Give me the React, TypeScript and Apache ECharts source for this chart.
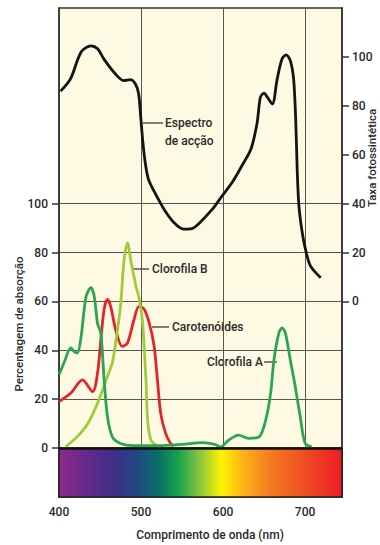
import React, { useEffect, useRef } from "react";
import * as echarts from "echarts";

// ---- data ----
const xLabelValues = [400, 500, 600, 700];
const absorptionTicks = [0, 20, 40, 60, 80, 100];
const rateTicks = [0, 20, 40, 60, 80, 100];

// Espectro de acção (taxa fotossintética, right axis)
const actionNm = [402, 414, 427, 439, 447, 455, 467, 479, 487, 493, 497, 499.5, 502, 505, 509, 516, 528, 540, 552, 562, 571, 587, 599, 611, 623, 634, 641.5, 645.5, 650, 654, 660, 666, 672, 677, 682, 686, 688.5, 690.5, 692.5, 696.5, 700.5, 706.5, 719];
const actionRate = [86, 91, 102, 104.5, 103.3, 99, 93.7, 90.3, 90.7, 89, 85, 76, 66, 57, 50, 45, 37.7, 32.3, 29.6, 29.8, 32, 37.7, 43.2, 48.6, 55.5, 62.3, 73, 83.5, 85.2, 83.5, 80.7, 91, 99.2, 100.8, 98.5, 91, 75, 52.7, 39, 28.2, 21.3, 14.5, 9.7];

// Clorofila B
const chlBNm = [408, 422, 435, 447, 459, 465, 469, 475, 479, 483.5, 488, 494, 498, 502, 506, 508, 512, 518, 524];
const chlBAbs = [0.5, 4.6, 10, 18.4, 29.3, 34.8, 43, 58, 75.8, 84, 75.8, 66, 60.8, 51, 28, 11.5, 3.3, 1.2, 0.5];

// Clorofila A
const chlANm = [400, 406, 414.5, 418.5, 422.5, 427, 433, 439, 443, 447, 451, 455, 459, 465, 475, 490, 520, 550, 575, 590, 597, 607, 619, 631, 644, 652, 658, 662, 668, 672, 676, 682, 688, 694, 700, 708];
const chlAAbs = [30, 34.8, 41, 39.5, 38.9, 45.7, 62, 65.6, 62, 51, 47, 28, 13, 4.6, 1.9, 1, 1, 1.5, 2.2, 1.5, 0.5, 3.3, 5.3, 4, 4.6, 11.5, 22.5, 36, 47, 49.2, 47, 36, 25.2, 13, 2, 0.5];

// Carotenóides
const carNm = [400, 414.5, 428.5, 441, 447, 451, 455, 459, 463, 469, 477, 483.5, 491.5, 497.5, 504, 510, 516, 520, 524, 530, 536, 540];
const carAbs = [19, 22.5, 27.9, 23.1, 30.7, 44.4, 56.7, 60.8, 58, 48.5, 41.6, 43, 52.6, 58, 56.7, 51.2, 41.6, 27.9, 14.2, 6, 1.9, 0.8];

const zip = (xs: number[], ys: number[]) => xs.map((x, i) => [x, ys[i]]);

const FONT = "Roboto, 'Noto Sans', sans-serif";
const TXT = "#2a2a2a";
const FW = 500;

export default function App() {
  const ref = useRef<HTMLDivElement>(null);
  useEffect(() => {
    document.body.style.margin = "0";
    if (!ref.current) return;
    const chart = echarts.init(ref.current, null, { renderer: "svg" });

    const spectrum = new echarts.graphic.LinearGradient(0, 0, 1, 0, [
      { offset: 0, color: "#8e2a8b" },
      { offset: 0.116, color: "#5d2a8c" },
      { offset: 0.2, color: "#3b2f86" },
      { offset: 0.29, color: "#1b4f80" },
      { offset: 0.35, color: "#0a6e6a" },
      { offset: 0.42, color: "#13a24e" },
      { offset: 0.49, color: "#7dc242" },
      { offset: 0.574, color: "#fff200" },
      { offset: 0.65, color: "#fbb416" },
      { offset: 0.75, color: "#f47920" },
      { offset: 1, color: "#ec1c24" },
    ]);

    const labelLine = (x1: number, y1: number, x2: number, y2: number) => ({
      type: "line",
      shape: { x1, y1, x2, y2 },
      style: { stroke: TXT, lineWidth: 1.2 },
      silent: true,
    });
    const label = (text: string, x: number, y: number, align = "left") => ({
      type: "text",
      x,
      y,
      style: { text, fill: TXT, fontSize: 12, fontFamily: FONT, fontWeight: FW, textAlign: align, textVerticalAlign: "middle" },
      silent: true,
    });
    const axisLabelStyle = { color: TXT, fontSize: 12, fontFamily: FONT, fontWeight: FW };

    chart.setOption({
      animation: false,
      grid: {
        left: 59,
        right: 38,
        top: 8,
        bottom: 48,
        show: true,
        backgroundColor: "#fdf9e3",
        borderColor: "#333",
        borderWidth: 1.5,
      },
      xAxis: {
        type: "value",
        min: 400,
        max: 745,
        interval: 100,
        axisLine: { show: false },
        axisTick: { show: false },
        splitLine: { show: true, lineStyle: { color: "#555", width: 1 } },
        axisLabel: { customValues: xLabelValues, ...axisLabelStyle, margin: 9 },
      },
      yAxis: [
        {
          type: "value",
          min: -20,
          max: 180,
          interval: 20,
          axisLine: { show: true, lineStyle: { color: "#333", width: 1.5 } },
          axisTick: { show: true, customValues: absorptionTicks, length: 7, lineStyle: { color: "#333", width: 1.5 } },
          splitLine: { show: true, lineStyle: { color: "#555", width: 1 } },
          axisLabel: { customValues: absorptionTicks, ...axisLabelStyle, margin: 11 },
        },
        {
          type: "value",
          min: -80,
          max: 120,
          interval: 20,
          position: "right",
          axisLine: { show: true, lineStyle: { color: "#333", width: 1.5 } },
          axisTick: { show: true, customValues: rateTicks, length: 7, lineStyle: { color: "#333", width: 1.5 } },
          splitLine: { show: false },
          axisLabel: { customValues: rateTicks, ...axisLabelStyle, margin: 10 },
        },
      ],
      series: [
        {
          name: "Carotenóides",
          type: "line",
          yAxisIndex: 0,
          data: zip(carNm, carAbs),
          smooth: 0.3,
          showSymbol: false,
          lineStyle: { color: "#e3242b", width: 2.8 },
          silent: true,
          z: 3,
          markArea: {
            silent: true,
            itemStyle: { color: spectrum, borderColor: "#222", borderWidth: 1.5 },
            data: [[{ xAxis: 400, yAxis: -20 }, { xAxis: 745, yAxis: 0 }]],
          },
        },
        {
          name: "Clorofila B",
          type: "line",
          yAxisIndex: 0,
          data: zip(chlBNm, chlBAbs),
          smooth: 0.3,
          showSymbol: false,
          lineStyle: { color: "#9fcb3c", width: 2.8 },
          silent: true,
          z: 3,
        },
        {
          name: "Clorofila A",
          type: "line",
          yAxisIndex: 0,
          data: zip(chlANm, chlAAbs),
          smooth: 0.3,
          showSymbol: false,
          lineStyle: { color: "#27a74f", width: 2.8 },
          silent: true,
          z: 4,
          markLine: {
            silent: true,
            symbol: ["none", "none"],
            label: { show: false },
            lineStyle: { color: "#111", width: 2.6, type: "solid" },
            data: [{ yAxis: 0 }],
          },
        },
        {
          name: "Espectro de acção",
          type: "line",
          yAxisIndex: 1,
          data: zip(actionNm, actionRate),
          smooth: 0.3,
          showSymbol: false,
          lineStyle: { color: "#141414", width: 2.8 },
          silent: true,
          z: 5,
        },
      ],
      graphic: [
        {
          type: "text",
          x: 19,
          y: 324,
          rotation: Math.PI / 2,
          style: { text: "Percentagem de absorção", fill: TXT, fontSize: 11.5, fontFamily: FONT, fontWeight: FW, textAlign: "center", textVerticalAlign: "middle" },
          silent: true,
        },
        {
          type: "text",
          x: 372,
          y: 158,
          rotation: Math.PI / 2,
          style: { text: "Taxa fotossintética", fill: TXT, fontSize: 11.5, fontFamily: FONT, fontWeight: FW, textAlign: "center", textVerticalAlign: "middle" },
          silent: true,
        },
        {
          type: "text",
          x: 210,
          y: 535,
          style: { text: "Comprimento de onda (nm)", fill: TXT, fontSize: 12, fontFamily: FONT, fontWeight: FW, textAlign: "center", textVerticalAlign: "middle" },
          silent: true,
        },
        labelLine(143, 123, 163, 123),
        label("Espectro", 165, 123),
        label("de acção", 165, 141),
        labelLine(132, 269, 149, 269),
        label("Clorofila B", 152, 269),
        labelLine(152, 327, 169, 327),
        label("Carotenóides", 172, 327),
        label("Clorofila A", 263, 362, "right"),
        labelLine(264, 362, 277, 362),
      ],
    });
    return () => chart.dispose();
  }, []);
  return <div ref={ref} style={{ width: 380, height: 545 }} />;
}
